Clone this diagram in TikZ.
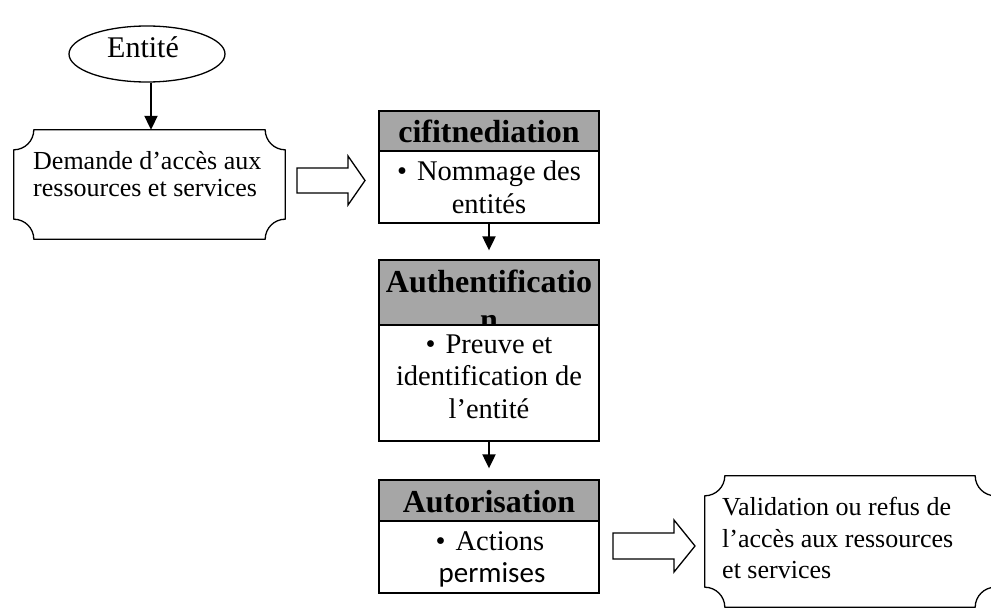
\documentclass[tikz,border=0pt]{standalone}
\usepackage{fontspec}
\setmainfont{Liberation Serif}
\newfontfamily\calibrifont{Carlito}
\usetikzlibrary{shapes.geometric,arrows.meta,calc}
\definecolor{hdrgray}{RGB}{166,166,166}

% outline of a plaque (rectangle with concave corners) around a named node
\newcommand\plaqueoutline[2]{%
  \draw[plaqueline]
    ($(#1.north west)+(#2,0)$) -- ($(#1.north east)+(-#2,0)$)
    .. controls ($(#1.north east)+(-#2,0.55*#2)$) and ($(#1.north east)+(-0.55*#2,#2)$) .. ($(#1.north east)+(0,#2)$)
    -- ($(#1.south east)+(0,-#2)$)
    .. controls ($(#1.south east)+(-0.55*#2,-#2)$) and ($(#1.south east)+(-#2,-0.55*#2)$) .. ($(#1.south east)+(-#2,0)$)
    -- ($(#1.south west)+(#2,0)$)
    .. controls ($(#1.south west)+(#2,-0.55*#2)$) and ($(#1.south west)+(0.55*#2,-#2)$) .. ($(#1.south west)+(0,-#2)$)
    -- ($(#1.north west)+(0,#2)$)
    .. controls ($(#1.north west)+(0.55*#2,#2)$) and ($(#1.north west)+(#2,0.55*#2)$) .. cycle;}

\begin{document}
\begin{tikzpicture}[x=1pt,y=-1pt,
  plaqueline/.style={line width=1.3pt, line join=round},
  frame/.style={rectangle, draw=none, inner sep=0pt},
  box/.style={rectangle, draw, line width=1.3pt, inner sep=0pt, minimum width=220pt},
  hdrbox/.style={box, fill=hdrgray},
  bodybox/.style={box, fill=white},
  txt/.style={inner sep=0pt, anchor=base},
  ltxt/.style={inner sep=0pt, anchor=base west},
  hfont/.style={font=\fontsize{32}{37}\selectfont\bfseries},
  bfont/.style={font=\fontsize{28.5}{33}\selectfont},
  pfont/.style={font=\fontsize{26}{30}\selectfont},
  flow/.style={-{Triangle[length=14pt,width=13pt]}, line width=2pt},
  blockarrow/.style={draw, line width=1.3pt, line join=miter, fill=white}]

\useasboundingbox (0,0) rectangle (991,608);

% entity
\node[ellipse, draw, line width=1.3pt, minimum width=156pt, minimum height=56pt] (entite) at (147,54) {};
\node[txt, font=\fontsize{30}{34}\selectfont] (entitelbl) at (143,57) {Entité};

% request plaque
\node[frame, minimum width=271pt, minimum height=109pt] (demande) at (149.5,184.5) {};
\plaqueoutline{demande}{20}
\node[ltxt, pfont] (demande1) at (33,169) {Demande d’accès aux};
\node[ltxt, pfont] (demande2) at (33,196) {ressources et services};

\draw[flow] ([xshift=4pt]entite.south) -- ([xshift=4pt]entite.south |- demande.north);

% identification
\node[hdrbox, minimum height=40pt] (hdrI) at (489,131) {};
\node[txt, hfont] (hdrItxt) at (489,142) {cifitnediation};
\node[bodybox, minimum height=72pt] (bodyI) at (489,187) {};
\node[txt, bfont] (bodyI1) at (489,180) {\textbullet\hspace{0.35em}Nommage des};
\node[txt, bfont] (bodyI2) at (489,213) {entités};

% authentication (the header text runs over its cell and is hidden by the body)
\node[hdrbox, minimum height=65pt] (hdrA) at (489,292.5) {};
\node[txt, hfont] (hdrAtxt1) at (489,292) {Authentificatio};
\node[txt, hfont] (hdrAtxt2) at (489,330) {n};
\node[bodybox, minimum height=116pt] (bodyA) at (489,383) {};
\node[txt, bfont] (bodyA1) at (489,353) {\textbullet\hspace{0.35em}Preuve et};
\node[txt, bfont] (bodyA2) at (489,385) {identification de};
\node[txt, bfont] (bodyA3) at (489,418) {l’entité};

% authorisation
\node[hdrbox, minimum height=41pt] (hdrZ) at (489,500.5) {};
\node[txt, hfont] (hdrZtxt) at (489,512) {Autorisation};
\node[bodybox, minimum height=72pt] (bodyZ) at (489,557) {};
\node[txt, bfont] (bodyZ1) at (490,550) {\textbullet\hspace{0.35em}Actions};
\node[txt, font=\fontsize{29}{33}\selectfont\calibrifont] (bodyZ2) at (492,582) {permises};

\draw[flow, shorten >=9pt] (bodyI.south) -- (hdrA.north);
\draw[flow, shorten >=11pt] (bodyA.south) -- (hdrZ.north);

% result plaque
\node[frame, minimum width=290pt, minimum height=131pt] (valid) at (850,541.5) {};
\plaqueoutline{valid}{20}
\node[ltxt, pfont] (valid1) at (722,515) {Validation ou refus de};
\node[ltxt, pfont] (valid2) at (722,547) {l’accès aux ressources};
\node[ltxt, pfont] (valid3) at (722,578) {et services};

% block arrows
\coordinate (ba1) at (297,180.5);
\path[blockarrow] (ba1) ++(0,-12.5) -- ++(51,0) -- ++(0,-12) -- (365,180.5)
  -- (348,205) -- ++(0,-12) -- ++(-51,0) -- cycle;
\coordinate (ba2) at (613,546);
\path[blockarrow] (ba2) ++(0,-13) -- ++(61,0) -- ++(0,-13) -- (695,546)
  -- (674,572) -- ++(0,-13) -- ++(-61,0) -- cycle;

\end{tikzpicture}
\end{document}
